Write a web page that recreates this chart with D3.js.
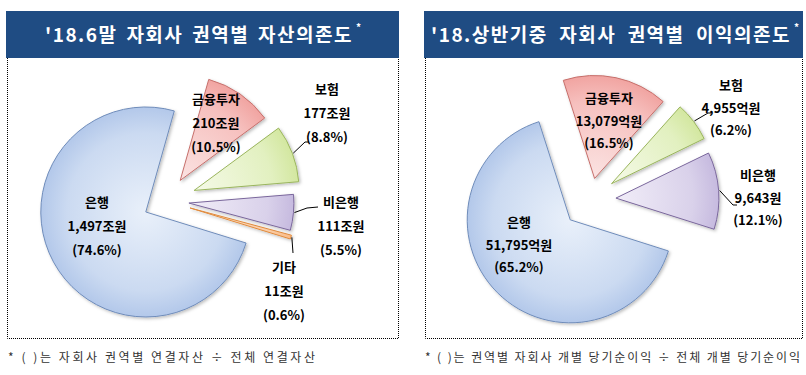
<!DOCTYPE html>
<html>
<head>
<meta charset="utf-8">
<script src="https://cdn.jsdelivr.net/npm/d3@7"></script>
<style>
  body { margin: 0; background: #fff; }
  text { font-family: "Noto Sans CJK KR", "Noto Sans", sans-serif; }
</style>
</head>
<body>
<svg id="chart" width="806" height="375"></svg>
<script>
// asset dependency by sector, end of June 2018
const assetCats = ["은행", "금융투자", "보험", "비은행", "기타"];
const assetValues = [1497, 210, 177, 111, 11];           // 조원
const assetValueLabels = ["1,497조원", "210조원", "177조원", "111조원", "11조원"];
const assetShares = [74.6, 10.5, 8.8, 5.5, 0.6];

// profit dependency by sector, 1H 2018
const profitCats = ["은행", "금융투자", "보험", "비은행"];
const profitValues = [51795, 13079, 4955, 9643];         // 억원
const profitValueLabels = ["51,795억원", "13,079억원", "4,955억원", "9,643원"];
const profitShares = [65.2, 16.5, 6.2, 12.1];

const titles = ["'18.6말 자회사 권역별 자산의존도", "'18.상반기중 자회사 권역별 이익의존도"];
const notes = ["* (  )는 자회사 권역별 연결자산 ÷ 전체 연결자산",
               "* (  )는 권역별 자회사 개별 당기순이익 ÷ 전체 개별 당기순이익"];

var svg = d3.select("#chart");
const rad = Math.PI / 180;

// slice colours by sector: [inner, outer, stroke]
const palette = {
    "은행": ["#e9f0fa", "#b3c8ea", "#6f8cba"],
    "금융투자": ["#fbe3e2", "#f1a4a1", "#c66f6b"],
    "보험": ["#f5fae7", "#d3e7a0", "#9ab55d"],
    "비은행": ["#f1edf8", "#c6badf", "#7a679c"],
    "기타": ["#fde3cc", "#f9bd8a", "#e08a3c"]
};

var defs = svg.append("defs");
defs.append("filter").attr("id", "shadow")
    .attr("x", "-20%").attr("y", "-20%").attr("width", "140%").attr("height", "140%")
    .append("feDropShadow")
    .attr("dx", 1.5).attr("dy", 1.5).attr("stdDeviation", 1.5)
    .attr("flood-color", "#000").attr("flood-opacity", 0.25);

// panel layouts (frame, pie centre, radius, start angle, explode distances, labels)
const panels = [
    {
        x0: 7, x1: 399, cats: assetCats, shares: assetShares, valueLabels: assetValueLabels,
        cx: 166, cy: 201, r: 105, start: 107.2, explode: [23, 25, 30, 23, 25],
        titleX: 45, titleLen: 308, noteX: 8, noteLen: 307, lineGap: 24,
        labels: [[97, 202], [216, 99], [327, 89], [341, 202], [284, 267]],
        leaders: [null, null, [[305, 142], [309, 142]], [[307, 208], [318, 207]], [[293, 253]]]
    },
    {
        x0: 425, x1: 803, cats: profitCats, shares: profitShares, valueLabels: profitValueLabels,
        cx: 590, cy: 200, r: 103, start: 107.6, explode: [28, 22, 27, 26],
        titleX: 431, titleLen: 360, noteX: 425, noteLen: 375, lineGap: 22.5,
        labels: [[519, 222], [609, 98], [731, 85], [758, 175]],
        leaders: [null, null, [[708, 113], [712, 113]], [[733, 205], [737, 205]]]
    }
];

panels.forEach((p, pi) => {
    var g = svg.append("g");

    // header bar
    g.append("rect")
        .attr("x", p.x0 - 1).attr("y", 11)
        .attr("width", p.x1 - p.x0 + 1).attr("height", 47)
        .attr("fill", "#1f4c83");
    var title = g.append("text")
        .attr("x", p.titleX).attr("y", 42)
        .attr("fill", "#fff").attr("font-size", 19).attr("font-weight", "bold")
        .attr("letter-spacing", 1.5)
        .text(titles[pi]);
    // widen the gaps between words so the title spans the same width as the original
    var natural = title.node().getComputedTextLength();
    var nSpaces = titles[pi].split(" ").length - 1;
    title.attr("word-spacing", Math.max(0, (p.titleLen - natural) / nSpaces));
    g.append("text")
        .attr("x", p.titleX + p.titleLen + 3).attr("y", 31)
        .attr("fill", "#fff").attr("font-size", 10).attr("font-weight", "bold")
        .text("*");

    // dotted frame
    g.append("path")
        .attr("d", "M" + (p.x0 + 0.5) + ",58V" + 338.5 + "H" + (p.x1 - 0.5) + "V58")
        .attr("fill", "none").attr("stroke", "#000")
        .attr("stroke-width", 1).attr("stroke-dasharray", "1,1");

    // footnote
    g.append("text")
        .attr("x", p.noteX).attr("y", 362)
        .attr("textLength", p.noteLen).attr("lengthAdjust", "spacing")
        .attr("fill", "#333").attr("font-size", 12)
        .text(notes[pi]);

    // pie
    var pie = d3.pie().sort(null).value(d => d)
        .startAngle(p.start * rad).endAngle(p.start * rad + 2 * Math.PI);
    var arc = d3.arc().innerRadius(0).outerRadius(p.r);
    var arcs = pie(p.shares);

    arcs.forEach((a, i) => {
        var cat = p.cats[i];
        var col = palette[cat];
        var id = "grad" + pi + "_" + i;
        var grad = defs.append("radialGradient").attr("id", id)
            .attr("gradientUnits", "userSpaceOnUse")
            .attr("cx", 0).attr("cy", 0).attr("r", p.r);
        grad.append("stop").attr("offset", "0%").attr("stop-color", col[0]);
        grad.append("stop").attr("offset", "75%").attr("stop-color", d3.interpolateRgb(col[0], col[1])(0.55));
        grad.append("stop").attr("offset", "100%").attr("stop-color", col[1]);

        var mid = (a.startAngle + a.endAngle) / 2;
        var ox = p.cx + Math.sin(mid) * p.explode[i];
        var oy = p.cy - Math.cos(mid) * p.explode[i];

        var sg = g.append("g").attr("transform", "translate(" + ox + "," + oy + ")");
        sg.append("path")
            .attr("d", arc(a))
            .attr("fill", "url(#" + id + ")")
            .attr("stroke", col[2]).attr("stroke-width", 1)
            .attr("filter", "url(#shadow)");

        // leader line from the arc midpoint to the label
        var lead = p.leaders[i];
        if (lead) {
            var pts = [[ox + Math.sin(mid) * (p.r + 1), oy - Math.cos(mid) * (p.r + 1)]].concat(lead);
            g.append("path")
                .attr("d", d3.line()(pts))
                .attr("fill", "none").attr("stroke", "#000").attr("stroke-width", 1);
        }

        // labels
        var lines = [cat, p.valueLabels[i], "(" + p.shares[i].toFixed(1) + "%)"];
        var lab = p.labels[i];
        lines.forEach((t, k) => {
            g.append("text")
                .attr("x", lab[0]).attr("y", lab[1] + k * p.lineGap + 5)
                .attr("text-anchor", "middle")
                .attr("font-size", 13).attr("font-weight", "bold")
                .attr("fill", "#000")
                .text(t);
        });
    });
});
</script>
</body>
</html>
